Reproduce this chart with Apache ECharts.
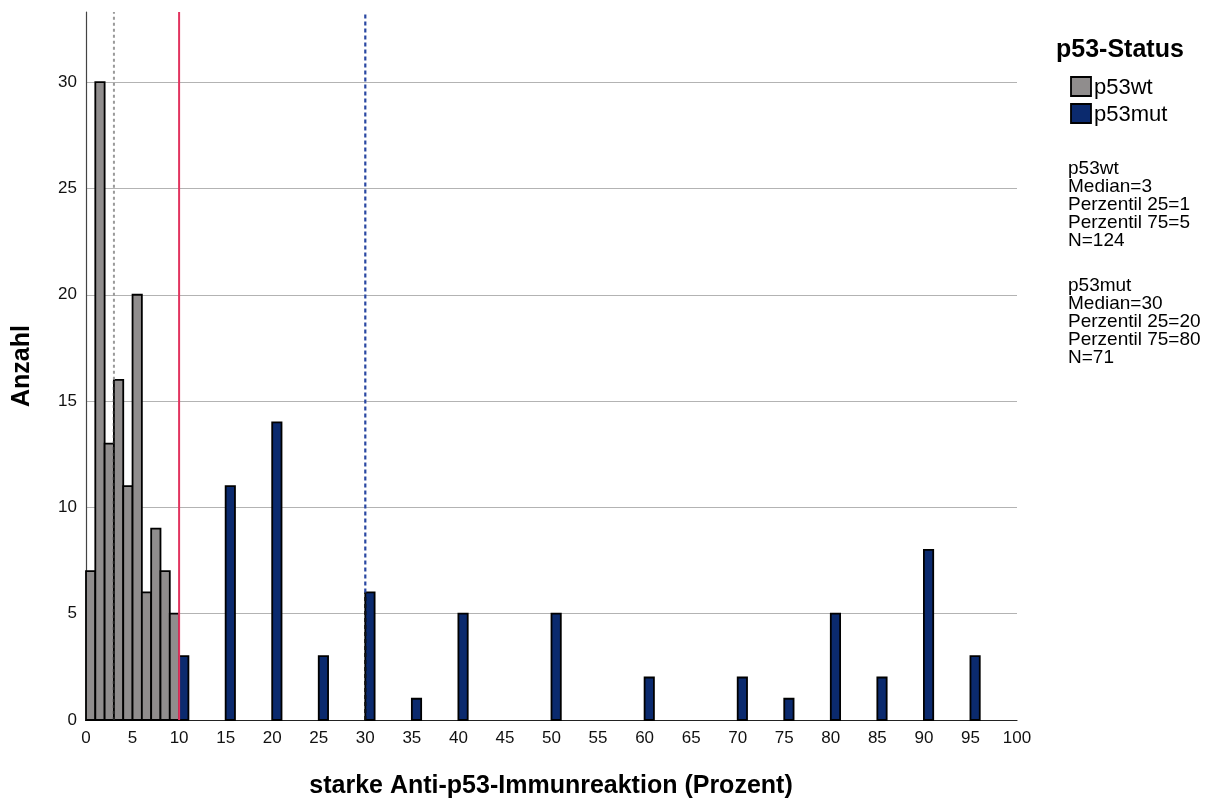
<!DOCTYPE html>
<html>
<head>
<meta charset="utf-8">
<script src="https://cdn.jsdelivr.net/npm/echarts@6/dist/echarts.min.js"></script>
<style>
html,body{margin:0;padding:0;background:#fff;}
#chart{width:1210px;height:800px;}
</style>
</head>
<body>
<div id="chart"></div>
<script>
// ---- data ----
const wtValues = [0, 1, 2, 3, 4, 5, 6, 7, 8, 9];
const wtCounts = [7, 30, 13, 16, 11, 20, 6, 9, 7, 5];
const mutValues = [10, 15, 20, 25, 30, 35, 40, 50, 60, 70, 75, 80, 85, 90, 95];
const mutCounts = [3, 11, 14, 3, 6, 1, 5, 5, 2, 2, 1, 5, 2, 8, 3];
const binWidth = 1;
const medianWt = 3;
const medianMut = 30;
const cutoff = 10;
const seriesNames = ['p53wt', 'p53mut'];
const statsWt = ['p53wt', 'Median=3', 'Perzentil 25=1', 'Perzentil 75=5', 'N=124'];
const statsMut = ['p53mut', 'Median=30', 'Perzentil 25=20', 'Perzentil 75=80', 'N=71'];
const xTitle = 'starke Anti-p53-Immunreaktion (Prozent)';
const yTitle = 'Anzahl';
const legendTitle = 'p53-Status';

const GREY = '#908d8d';
const NAVY = '#0b2a6e';
const FONT = '"Liberation Sans", Arial, sans-serif';
const YMAX = 33.3;

function barItem(fill) {
  return function (params, api) {
    const x0 = api.value(0), h = api.value(1);
    const p0 = api.coord([x0, h]);
    const p1 = api.coord([x0 + binWidth, 0]);
    return {
      type: 'rect',
      shape: { x: p0[0], y: p0[1], width: p1[0] - p0[0], height: p1[1] - p0[1] },
      style: { fill: fill, stroke: '#000', lineWidth: 1.8 }
    };
  };
}

const chart = echarts.init(document.getElementById('chart'), null, { renderer: 'canvas' });

const statsGraphics = [];
statsWt.forEach((t, i) => statsGraphics.push({
  type: 'text', x: 1068, y: 168.5 + i * 18,
  style: { text: t, fontFamily: FONT, fontSize: 19, fill: '#000', textVerticalAlign: 'middle' }
}));
statsMut.forEach((t, i) => statsGraphics.push({
  type: 'text', x: 1068, y: 285.5 + i * 18,
  style: { text: t, fontFamily: FONT, fontSize: 19, fill: '#000', textVerticalAlign: 'middle' }
}));

const option = {
  backgroundColor: '#fff',
  animation: false,
  grid: { left: 86, right: 193, top: 12, bottom: 80, containLabel: false },
  xAxis: {
    type: 'value', min: 0, max: 100, interval: 5,
    axisLine: { show: true, lineStyle: { color: '#222', width: 1.2 } },
    axisTick: { show: false },
    splitLine: { show: false },
    axisLabel: { color: '#111', fontFamily: FONT, fontSize: 17, margin: 10 }
  },
  yAxis: {
    type: 'value', min: 0, max: YMAX, interval: 5,
    axisLine: { show: true, lineStyle: { color: '#444', width: 1.2 } },
    axisTick: { show: false },
    splitLine: { show: true, showMaxLine: false, showMinLine: false, lineStyle: { color: '#b3b3b3', width: 1.2 } },
    axisLabel: { color: '#111', fontFamily: FONT, fontSize: 17, margin: 9, showMaxLabel: false }
  },
  series: [
    {
      name: seriesNames[0], type: 'custom', renderItem: barItem(GREY),
      encode: { x: 0, y: 1 },
      data: wtValues.map((v, i) => [v, wtCounts[i]]), z: 2
    },
    {
      name: seriesNames[1], type: 'custom', renderItem: barItem(NAVY),
      encode: { x: 0, y: 1 },
      data: mutValues.map((v, i) => [v, mutCounts[i]]), z: 2
    },
    { type: 'line', data: [[medianWt, 0], [medianWt, wtCounts[3]]], symbol: 'none', silent: true, z: 5,
      lineStyle: { color: '#222', width: 2.2, type: [3, 3] } },
    { type: 'line', data: [[medianWt, wtCounts[3]], [medianWt, YMAX]], symbol: 'none', silent: true, z: 5,
      lineStyle: { color: '#9a9a9a', width: 2, type: [3, 3] } },
    { type: 'line', data: [[cutoff, 0], [cutoff, YMAX]], symbol: 'none', silent: true, z: 6,
      lineStyle: { color: '#e2335f', width: 2 } },
    { type: 'line', data: [[medianMut, 0], [medianMut, mutCounts[4]]], symbol: 'none', silent: true, z: 5,
      lineStyle: { color: '#111', width: 2.2, type: [4, 3] } },
    { type: 'line', data: [[medianMut, mutCounts[4]], [medianMut, YMAX - 0.1]], symbol: 'none', silent: true, z: 5,
      lineStyle: { color: '#2a48a2', width: 2.2, type: [4, 3] } }
  ],
  graphic: [
    { type: 'text', x: 551, y: 786,
      style: { text: xTitle, fontFamily: FONT, fontSize: 25, fontWeight: 'bold', fill: '#000', textAlign: 'center', textVerticalAlign: 'middle' } },
    { type: 'text', x: 22, y: 366, rotation: Math.PI / 2,
      style: { text: yTitle, fontFamily: FONT, fontSize: 25, fontWeight: 'bold', fill: '#000', textAlign: 'center', textVerticalAlign: 'middle' } },
    { type: 'text', x: 1056, y: 50,
      style: { text: legendTitle, fontFamily: FONT, fontSize: 25, fontWeight: 'bold', fill: '#000', textVerticalAlign: 'middle' } },
    { type: 'rect', shape: { x: 1071, y: 77, width: 20, height: 19 },
      style: { fill: GREY, stroke: '#000', lineWidth: 1.8 } },
    { type: 'rect', shape: { x: 1071, y: 104, width: 20, height: 19 },
      style: { fill: NAVY, stroke: '#000', lineWidth: 1.8 } },
    { type: 'text', x: 1094, y: 88,
      style: { text: seriesNames[0], fontFamily: FONT, fontSize: 22, fill: '#000', textVerticalAlign: 'middle' } },
    { type: 'text', x: 1094, y: 115,
      style: { text: seriesNames[1], fontFamily: FONT, fontSize: 22, fill: '#000', textVerticalAlign: 'middle' } }
  ].concat(statsGraphics)
};
chart.setOption(option);
</script>
</body>
</html>
